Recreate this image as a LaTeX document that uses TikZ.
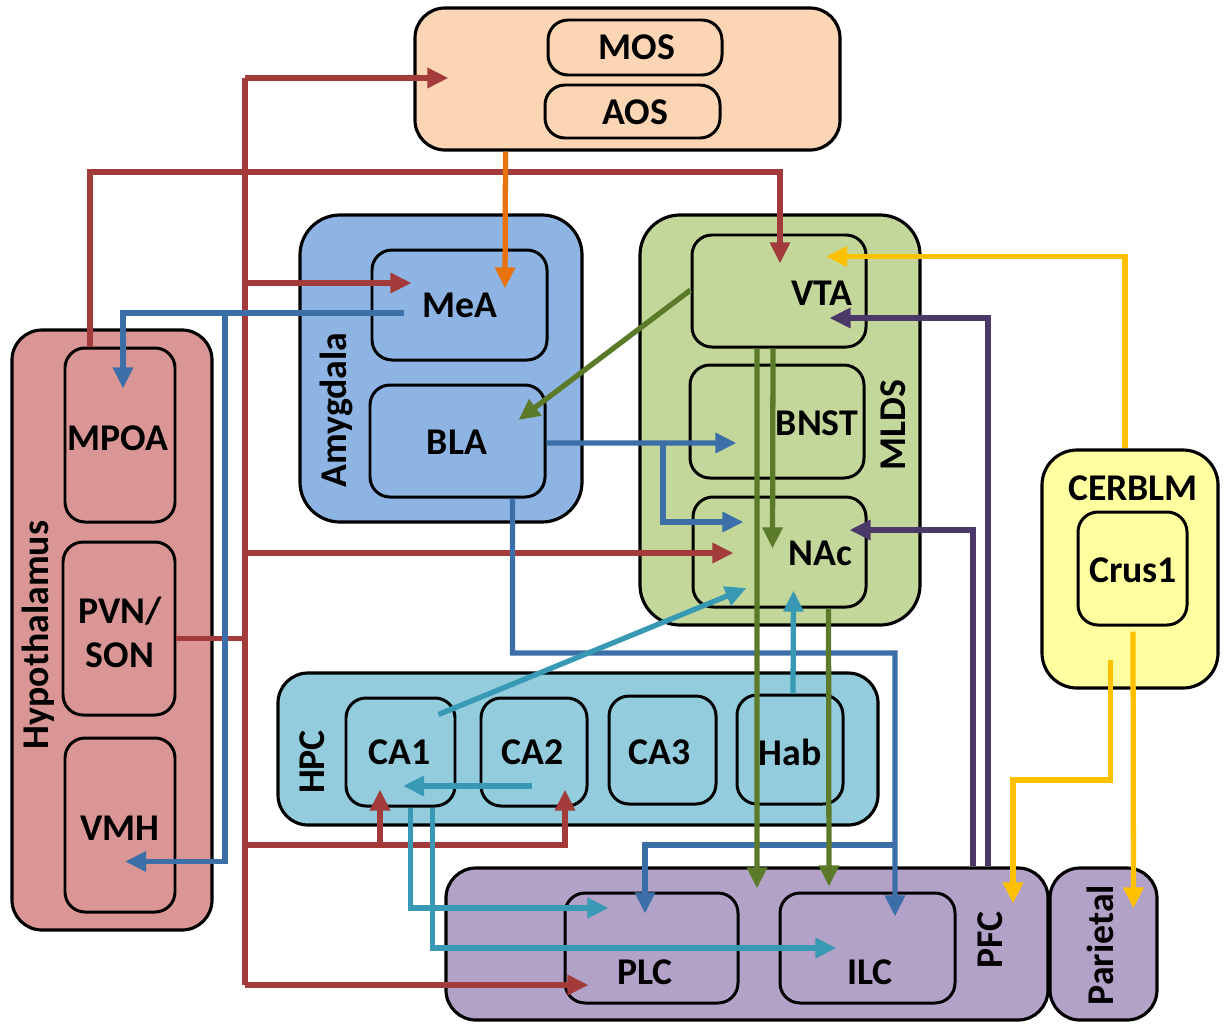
\documentclass[tikz,border=0pt]{standalone}
\usepackage{fontspec}
\setmainfont{Carlito}
\usetikzlibrary{arrows.meta,calc}
\definecolor{olfF}{HTML}{FCD5B4}
\definecolor{amyF}{HTML}{8EB4E3}
\definecolor{mldsF}{HTML}{C4D79B}
\definecolor{hypF}{HTML}{DA9694}
\definecolor{hpcF}{HTML}{93CDDD}
\definecolor{pfcF}{HTML}{B3A2C7}
\definecolor{cerF}{HTML}{FFFFA0}
\definecolor{cRed}{HTML}{A33B3B}
\definecolor{cBlue}{HTML}{3C6EA7}
\definecolor{cGreen}{HTML}{5B7A2A}
\definecolor{cTeal}{HTML}{3799B3}
\definecolor{cPurple}{HTML}{4A3968}
\definecolor{cYellow}{HTML}{FFC000}
\definecolor{cOrange}{HTML}{E8720C}
\tikzset{
  outerbox/.style={draw=black, line width=1.8pt, rounded corners=0.6cm, inner sep=0pt},
  innerbox/.style={draw=black, line width=1.7pt, rounded corners=0.4cm, inner sep=0pt},
  lbl/.style={font=\bfseries\fontsize{21.5}{25}\selectfont, inner sep=0pt, align=center},
  wire/.style={line width=3pt},
  tipped/.style={wire, -{Triangle[length=12pt,width=11pt]}},
  rd/.style={wire, draw=cRed}, rda/.style={tipped, draw=cRed},
  bl/.style={wire, draw=cBlue}, bla/.style={tipped, draw=cBlue},
  gra/.style={tipped, draw=cGreen},
  tla/.style={tipped, draw=cTeal},
  pua/.style={tipped, draw=cPurple},
  yla/.style={tipped, draw=cYellow},
  ora/.style={tipped, draw=cOrange},
}
\newcommand\rbox[7]{\node[#1, fill=#7, minimum width={(#5-#3)*0.02cm}, minimum height={(#6-#4)*0.02cm}] (#2) at ({(#3+#5)/2},{(#4+#6)/2}) {};}
\begin{document}
\begin{tikzpicture}[x=0.02cm,y=-0.02cm]
\useasboundingbox (0,0) rectangle (1227,1025);
% outer boxes
\rbox{outerbox}{Olf}{415}{8}{840}{150}{olfF}
\rbox{outerbox, rounded corners=0.8cm}{Amy}{300}{215}{582}{522}{amyF}
\rbox{outerbox, rounded corners=0.8cm}{MLDS}{640}{215}{920}{625}{mldsF}
\rbox{outerbox}{Hyp}{12}{330}{212}{930}{hypF}
\rbox{outerbox}{HPC}{278}{673}{878}{825}{hpcF}
\rbox{outerbox}{PFC}{446}{868}{1048}{1020}{pfcF}
\rbox{outerbox}{Par}{1050}{868}{1157}{1020}{pfcF}
\rbox{outerbox, rounded corners=0.7cm}{CER}{1042}{450}{1218}{688}{cerF}
% inner boxes
\rbox{innerbox}{MOS}{548}{20}{722}{75}{olfF}
\rbox{innerbox}{AOS}{545}{85}{720}{138}{olfF}
\rbox{innerbox}{MeA}{372}{250}{547}{360}{amyF}
\rbox{innerbox}{BLA}{370}{385}{545}{497}{amyF}
\rbox{innerbox}{VTA}{692}{235}{866}{347}{mldsF}
\rbox{innerbox}{BNST}{690}{365}{864}{478}{mldsF}
\rbox{innerbox}{NAc}{693}{497}{866}{607}{mldsF}
\rbox{innerbox}{MPOA}{65}{348}{175}{522}{hypF}
\rbox{innerbox}{PVN}{63}{542}{175}{715}{hypF}
\rbox{innerbox}{VMH}{65}{738}{175}{912}{hypF}
\rbox{innerbox}{CA1}{346}{698}{455}{806}{hpcF}
\rbox{innerbox}{CA2}{481}{698}{587}{806}{hpcF}
\rbox{innerbox}{CA3}{609}{696}{716}{804}{hpcF}
\rbox{innerbox}{Hab}{737}{695}{843}{804}{hpcF}
\rbox{innerbox}{PLC}{565}{893}{738}{1003}{pfcF}
\rbox{innerbox}{ILC}{780}{893}{955}{1003}{pfcF}
\rbox{innerbox}{Crus}{1078}{512}{1187}{625}{cerF}
% labels
\node[lbl] (tMOS) at (637,47) {MOS};
\node[lbl] (tAOS) at (635,112) {AOS};
\node[lbl] (tMeA) at (460,305) {MeA};
\node[lbl] (tBLA) at (457,442) {BLA};
\node[lbl, rotate=90] (tAmy) at (336,410) {Amygdala};
\node[lbl] (tVTA) at (822,293) {VTA};
\node[lbl] (tBNST) at (817,423) {BNST};
\node[lbl] (tNAc) at (820,553) {NAc};
\node[lbl, rotate=90] (tMLDS) at (893,425) {MLDS};
\node[lbl] (tMPOA) at (118,438) {MPOA};
\node[lbl] (tPVN) at (120,632) {PVN/\\SON};
\node[lbl] (tVMH) at (120,828) {VMH};
\node[lbl, rotate=90] (tHyp) at (38,635) {Hypothalamus};
\node[lbl, rotate=90] (tHPC) at (312,762) {HPC};
\node[lbl] (tCA1) at (400,752) {CA1};
\node[lbl] (tCA2) at (533,752) {CA2};
\node[lbl] (tCA3) at (660,752) {CA3};
\node[lbl] (tHab) at (790,752) {Hab};
\node[lbl] (tPLC) at (645,972) {PLC};
\node[lbl] (tILC) at (870,972) {ILC};
\node[lbl, rotate=90] (tPFC) at (990,940) {PFC};
\node[lbl, rotate=90] (tPar) at (1100,945) {Parietal};
\node[lbl] (tCER) at (1133,488) {CERBLM};
\node[lbl] (tCrus) at (1133,570) {Crus1};
% red connectors
\coordinate (jPVN) at (245,638.5);
\draw[rd] ($(PVN.east)+(0,10)$) -- (jPVN);
\draw[rd] (245,985) -- (245,78);
\draw[rda] (245,78) -- ($(Olf.west)+(35,-1)$);
\draw[rda] (245,283) -- ($(MeA.west)+(41,-22)$);
\draw[rda] (245,553) -- ($(NAc.west)+(42,1)$);
\draw[rda] (245,845) -| ($(CA2.south)+(31,-18)$);
\draw[rda] (380,845) -- ($(CA1.south)+(-20.5,-18)$);
\draw[rda] (245,985) -- ($(PLC.west)+(25,37)$);
\draw[rda] ($(MPOA.north)+(-30,0)$) |- (780,172) -- ($(VTA.north)+(1,30)$);
% orange
\draw[ora] ($(Olf.south)+(-122,0)$) -- ($(MeA.north)+(45.5,40)$);
% blue
\draw[bla] ($(MeA.west)+(33,8)$) -| ($(MPOA.north)+(3,42)$);
\draw[bla] (225,313) |- ($(VMH.south)+(5,-52)$);
\draw[bla] ($(BLA.east)+(0,2)$) -- ($(BNST.west)+(48,21.5)$);
\draw[bla] (663,443) |- ($(NAc.west)+(52,-30)$);
\draw[bla] ($(BLA.south)+(55,0)$) |- (895,653) -- ($(ILC.north)+(27.5,25)$);
\draw[bla] (895,845) -| ($(PLC.north)+(-6.5,22)$);
% green
\draw[gra] ($(VTA.west)+(0,-1)$) -- ($(BLA.east)+(-28,-21)$);
\draw[gra] ($(VTA.south)+(-6,0)$) -- ($(NAc.north)+(-7,53)$);
\draw[gra] ($(VTA.south)+(-22,0)$) -- ($(PLC.north)+(105.5,-3)$);
\draw[gra] ($(NAc.south)+(49,0)$) -- ($(ILC.north)+(-38.5,-5)$);
% teal
\draw[tla] ($(CA1.north)+(38,18)$) -- ($(NAc.west)+(55,36)$);
\draw[tla] ($(CA2.center)+(-2,34)$) -- ($(CA1.center)+(2.5,34)$);
\draw[tla] ($(Hab.north)+(3,0)$) -- ($(NAc.south)+(14,-18)$);
\draw[tla] ($(CA1.south)+(10,0)$) |- ($(PLC.west)+(45,-40)$);
\draw[tla] ($(CA1.south)+(32,0)$) |- ($(ILC.west)+(58,0)$);
% purple
\draw[pua] ($(PFC.north)+(241,0)$) |- ($(VTA.east)+(-38,27)$);
\draw[pua] ($(PFC.north)+(226,0)$) |- ($(NAc.east)+(-18,-22)$);
% yellow
\draw[yla] ($(CER.north)+(-5,0)$) |- ($(VTA.north)+(47,23)$);
\draw[yla] ($(Crus.south)+(0.5,5)$) -- ($(Par.north)+(30,42)$);
\draw[yla] ($(Crus.south)+(-22,33)$) |- (1013,780) -- ($(PFC.north)+(266,37)$);
\end{tikzpicture}
\end{document}
